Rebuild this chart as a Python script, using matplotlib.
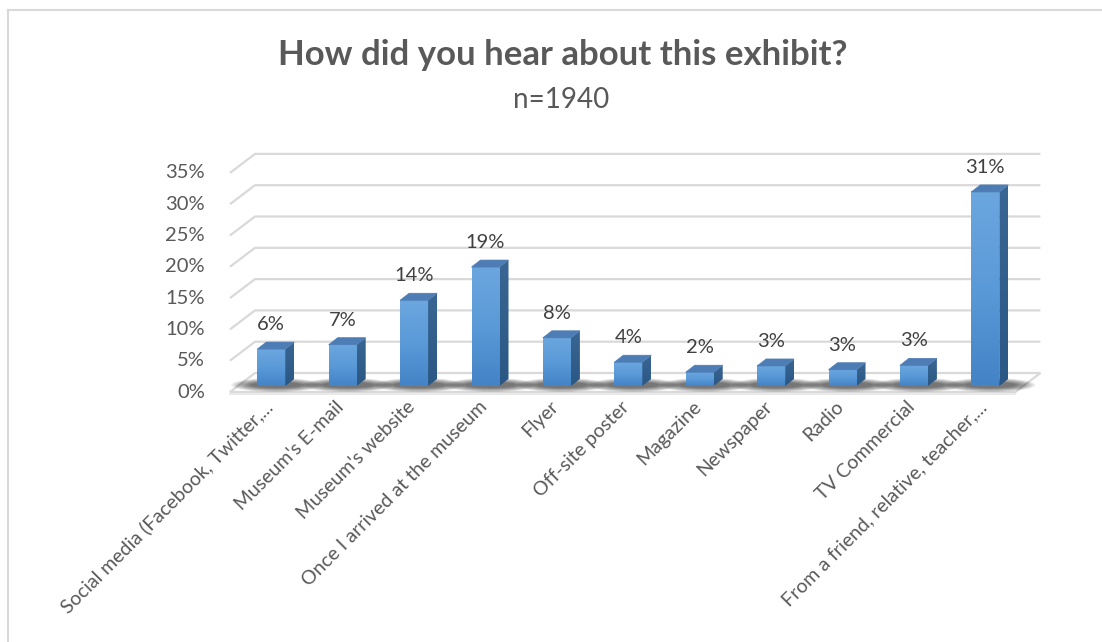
import numpy as np
import matplotlib
matplotlib.use("Agg")
import matplotlib.pyplot as plt
from matplotlib.patches import Polygon, Ellipse
from matplotlib.lines import Line2D
from matplotlib.colors import LinearSegmentedColormap

plt.rcParams["font.family"] = ["Lato", "DejaVu Sans"]

# survey answers, share of respondents (%)
categories = [
    "Social media (Facebook, Twitter,...",
    "Museum's E-mail",
    "Museum's website",
    "Once I arrived at the museum",
    "Flyer",
    "Off-site poster",
    "Magazine",
    "Newspaper",
    "Radio",
    "TV Commercial",
    "From a friend, relative, teacher,...",
]
shares = [5.9, 6.6, 13.7, 19.0, 7.7, 3.8, 2.2, 3.2, 2.6, 3.3, 31.0]
y_ticks = [0, 5, 10, 15, 20, 25, 30, 35]

title = "How did you hear about this exhibit?"
subtitle = "n=1940"

W, H = 1102, 642
fig = plt.figure(figsize=(W / 100, H / 100), dpi=100)
ax = fig.add_axes([0, 0, 1, 1])

# pixel scale of the plot area: one category slot and one percent
SLOT, PCT = 71.4, 6.26
X0, Y0 = 230, 392  # front-left corner of the floor in pixels
ax.set_xlim(-X0 / SLOT, (W - X0) / SLOT)
ax.set_ylim((Y0 - H) / PCT, Y0 / PCT)
ax.axis("off")


def px(p):
    return p / SLOT


def py(p):
    return p / PCT


n = len(categories)
wall_dx, wall_dy = px(25), py(19)
grid_col = "#d9d9d9"

# side and back wall gridlines
for t in y_ticks[1:]:
    ax.plot([0, wall_dx, n + wall_dx], [t, t + wall_dy, t + wall_dy],
            color=grid_col, lw=1.6, solid_capstyle="butt", zorder=1)

# floor slab
floor = Polygon([(0, 0), (n, 0), (n + wall_dx, wall_dy), (wall_dx, wall_dy)],
                closed=True, facecolor="white", edgecolor=grid_col, lw=1.6, zorder=2)
ax.add_patch(floor)
ax.plot([0, n], [py(-1.5), py(-1.5)], color="#e6e6e6", lw=1.2, zorder=2)

# bar geometry
bw = px(28)
off_x, off_y = px(5.6), py(6)
dep_x, dep_y = px(9), py(7)

front_cmap = LinearSegmentedColormap.from_list("front", ["#4383c6", "#5b9ad8", "#6ba6df"])
side_cmap = LinearSegmentedColormap.from_list("side", ["#2b5784", "#3a6694"])
grad = np.linspace(0, 1, 256).reshape(-1, 1)

for i, v in enumerate(shares):
    c = i + 0.5 + off_x
    xl, xr = c - bw / 2, c + bw / 2
    yb, yt = off_y, off_y + v

    # soft shadow on the floor
    for k in range(9):
        f = 1 - k / 9
        ax.add_patch(Ellipse((c + px(5), yb + py(1)), px(46 + 44 * f), py(5 + 9 * f),
                             facecolor="#000000", alpha=0.08, lw=0, zorder=3))

    # front face
    ax.imshow(grad, cmap=front_cmap, extent=[xl, xr, yb, yt], origin="lower",
              aspect="auto", zorder=5, interpolation="bilinear")
    # side face
    side = Polygon([(xr, yb), (xr + dep_x, yb + dep_y), (xr + dep_x, yt + dep_y), (xr, yt)],
                   closed=True, facecolor="none", lw=0, zorder=5)
    ax.add_patch(side)
    im = ax.imshow(grad, cmap=side_cmap, extent=[xr, xr + dep_x, yb, yt + dep_y],
                   origin="lower", aspect="auto", zorder=5, interpolation="bilinear")
    im.set_clip_path(side)
    # top face
    ax.add_patch(Polygon([(xl, yt), (xr, yt), (xr + dep_x, yt + dep_y), (xl + dep_x, yt + dep_y)],
                         closed=True, facecolor="#4d7db4", edgecolor="#4d7db4", lw=0.5, zorder=6))

    ax.text(c, yt + dep_y + py(12), f"{round(v):d}%", ha="center", va="baseline",
            fontsize=14.5, color="#404040", zorder=7)

    ax.text(i + 0.5 + px(4), py(-12), categories[i], rotation=45, rotation_mode="anchor",
            ha="right", va="center", fontsize=14, color="#595959")

# value axis labels
for t in y_ticks:
    ax.text(px(-25), t, f"{t}%", ha="right", va="center", fontsize=14.5, color="#595959")

fig.text(563 / W, 1 - 55 / H, title, ha="center", va="center", fontsize=25,
         fontweight="bold", color="#595959")
fig.text(561 / W, 1 - 100 / H, subtitle, ha="center", va="center", fontsize=20,
         color="#595959")

# chart frame
fig.add_artist(Line2D([7.5 / W, 7.5 / W], [0, 1 - 9.5 / H], color="#d9d9d9", lw=1.5,
                      transform=fig.transFigure))
fig.add_artist(Line2D([7.5 / W, 1], [1 - 9.5 / H, 1 - 9.5 / H], color="#d9d9d9", lw=1.5,
                      transform=fig.transFigure))

fig.savefig("out.png", dpi=100)
